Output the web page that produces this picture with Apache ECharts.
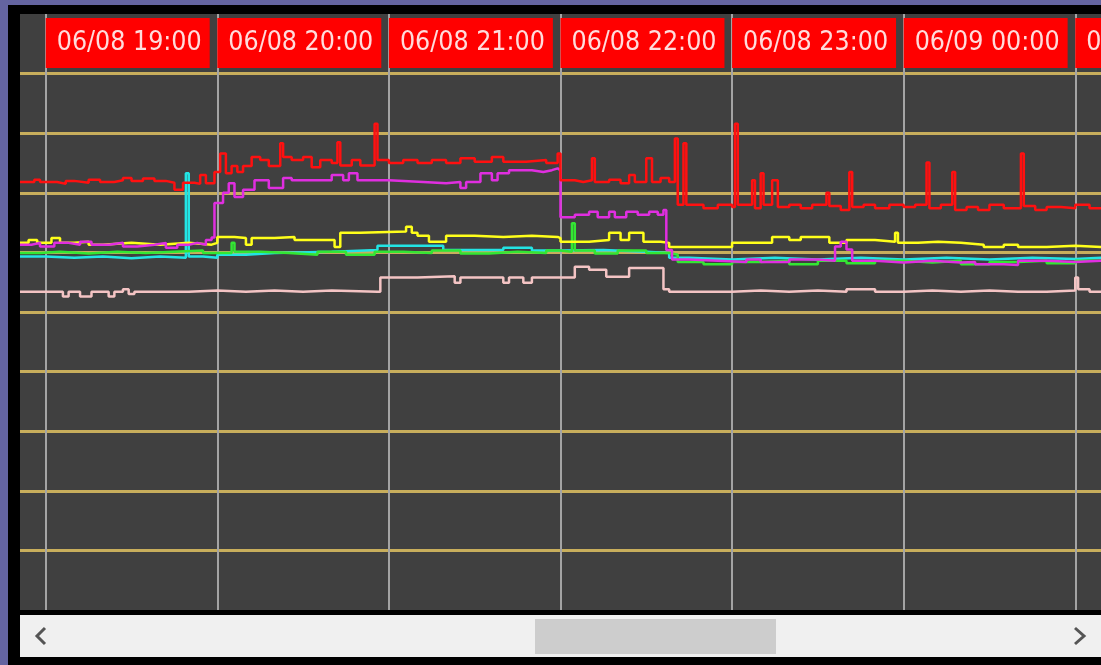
<!DOCTYPE html>
<html>
<head>
<meta charset="utf-8">
<script src="https://cdn.jsdelivr.net/npm/echarts@6/dist/echarts.min.js"></script>
<style>
    html, body { margin: 0; padding: 0; width: 1101px; height: 665px; overflow: hidden; background: #6464a0; }
    #container { position: absolute; left: 8px; top: 5px; width: 1093px; height: 660px; }
</style>
</head>
<body>
<div id="container"></div>
<script>
// visible window of the trend, 06/08 18:51 .. 06/09 01:09
const viewStart = '18:51';
const viewEnd = '01:09';

const redData = [
    ['18:51', 7.18], ['18:56', 7.22], ['18:58', 7.18], ['19:04', 7.15], ['19:07', 7.20], ['19:10', 7.17],
    ['19:15', 7.22], ['19:19', 7.18], ['19:24', 7.21], ['19:27', 7.25], ['19:30', 7.20], ['19:34', 7.24],
    ['19:38', 7.20], ['19:42', 7.17], ['19:45', 7.05], ['19:48', 7.17], ['19:52', 7.15], ['19:54', 7.30],
    ['19:56', 7.16], ['19:59', 7.35], ['20:01', 7.66], ['20:03', 7.33], ['20:05', 7.45], ['20:07', 7.35],
    ['20:09', 7.45], ['20:12', 7.60], ['20:15', 7.55], ['20:18', 7.45], ['20:22', 7.83], ['20:23', 7.60],
    ['20:26', 7.55], ['20:30', 7.60], ['20:33', 7.43], ['20:36', 7.55], ['20:40', 7.50], ['20:42', 7.85],
    ['20:43', 7.46], ['20:47', 7.55], ['20:50', 7.46], ['20:55', 8.16], ['20:56', 7.55], ['21:00', 7.50],
    ['21:05', 7.55], ['21:10', 7.50], ['21:15', 7.55], ['21:20', 7.50], ['21:25', 7.58], ['21:30', 7.52],
    ['21:36', 7.60], ['21:40', 7.52], ['21:48', 7.55], ['21:55', 7.50], ['21:59', 7.66], ['22:00', 7.21],
    ['22:05', 7.18], ['22:08', 7.21], ['22:11', 7.58], ['22:12', 7.18], ['22:17', 7.22], ['22:21', 7.16],
    ['22:24', 7.30], ['22:26', 7.18], ['22:30', 7.58], ['22:32', 7.18], ['22:35', 7.25], ['22:38', 7.18],
    ['22:40', 7.91], ['22:41', 6.80], ['22:43', 7.83], ['22:44', 6.80], ['22:50', 6.74], ['22:55', 6.80],
    ['23:00', 6.76], ['23:01', 8.16], ['23:02', 6.80], ['23:07', 7.21], ['23:08', 6.74], ['23:10', 7.33],
    ['23:11', 6.80], ['23:14', 7.21], ['23:16', 6.76], ['23:20', 6.80], ['23:24', 6.74], ['23:28', 6.80],
    ['23:33', 7.00], ['23:34', 6.78], ['23:38', 6.71], ['23:41', 7.35], ['23:42', 6.76], ['23:46', 6.80],
    ['23:50', 6.74], ['23:55', 6.80], ['00:00', 6.76], ['00:04', 6.80], ['00:08', 7.51], ['00:09', 6.74],
    ['00:13', 6.80], ['00:17', 7.35], ['00:18', 6.71], ['00:22', 6.76], ['00:26', 6.71], ['00:30', 6.80],
    ['00:35', 6.74], ['00:41', 7.66], ['00:42', 6.78], ['00:46', 6.71], ['00:50', 6.76], ['00:55', 6.74],
    ['01:00', 6.80], ['01:05', 6.74], ['01:09', 6.76]
];

const magentaData = [
    ['18:51', 6.13], ['18:55', 6.16], ['18:58', 6.10], ['19:03', 6.16], ['19:08', 6.13], ['19:12', 6.18],
    ['19:16', 6.13], ['19:22', 6.16], ['19:27', 6.10], ['19:32', 6.13], ['19:38', 6.16], ['19:42', 6.08],
    ['19:46', 6.13], ['19:50', 6.16], ['19:53', 6.13], ['19:56', 6.21], ['19:58', 6.25], ['19:59', 6.83],
    ['20:02', 7.00], ['20:04', 7.16], ['20:06', 6.93], ['20:09', 7.05], ['20:13', 7.21], ['20:18', 7.08],
    ['20:23', 7.25], ['20:26', 7.21], ['20:40', 7.30], ['20:44', 7.21], ['20:46', 7.33], ['20:49', 7.21],
    ['21:00', 7.18], ['21:12', 7.16], ['21:20', 7.18], ['21:25', 7.08], ['21:27', 7.18], ['21:32', 7.33],
    ['21:36', 7.21], ['21:38', 7.33], ['21:42', 7.38], ['21:50', 7.35], ['21:54', 7.38], ['21:57', 7.41],
    ['21:59', 7.38], ['22:00', 6.59], ['22:05', 6.63], ['22:10', 6.68], ['22:13', 6.59], ['22:17', 6.68],
    ['22:19', 6.59], ['22:23', 6.68], ['22:27', 6.63], ['22:31', 6.68], ['22:34', 6.63], ['22:36', 6.71],
    ['22:37', 6.04], ['22:39', 5.88], ['22:45', 5.86], ['22:55', 5.84], ['23:05', 5.88], ['23:10', 5.84],
    ['23:20', 5.88], ['23:30', 5.86], ['23:36', 6.10], ['23:38', 6.18], ['23:40', 6.05], ['23:42', 5.86],
    ['23:50', 5.83], ['00:00', 5.86], ['00:10', 5.83], ['00:20', 5.84], ['00:25', 5.80], ['00:35', 5.79],
    ['00:40', 5.86], ['00:50', 5.84], ['01:00', 5.86], ['01:09', 5.84]
];

const yellowData = [
    ['18:51', 6.16], ['18:54', 6.21], ['18:57', 6.16], ['19:02', 6.24], ['19:05', 6.16], ['19:10', 6.18],
    ['19:15', 6.13], ['19:20', 6.16], ['19:30', 6.13], ['19:40', 6.16], ['19:50', 6.13], ['19:58', 6.16],
    ['20:00', 6.26], ['20:06', 6.24], ['20:10', 6.13], ['20:12', 6.24], ['20:20', 6.26], ['20:27', 6.21],
    ['20:35', 6.21], ['20:41', 6.09], ['20:43', 6.33], ['20:50', 6.35], ['21:06', 6.43], ['21:08', 6.33],
    ['21:10', 6.28], ['21:14', 6.18], ['21:20', 6.28], ['21:30', 6.26], ['21:40', 6.28], ['21:50', 6.26],
    ['21:59', 6.24], ['22:00', 6.18], ['22:10', 6.21], ['22:17', 6.33], ['22:21', 6.21], ['22:24', 6.33],
    ['22:29', 6.18], ['22:35', 6.16], ['22:38', 6.09], ['22:50', 6.09], ['23:00', 6.16], ['23:08', 6.16],
    ['23:14', 6.26], ['23:20', 6.21], ['23:24', 6.26], ['23:34', 6.16], ['23:40', 6.21], ['23:50', 6.18],
    ['23:57', 6.33], ['23:58', 6.16], ['00:05', 6.18], ['00:12', 6.16], ['00:20', 6.13], ['00:28', 6.09],
    ['00:35', 6.13], ['00:40', 6.09], ['00:50', 6.11], ['01:00', 6.09], ['01:09', 6.09]
];

const greenData = [
    ['18:51', 5.99], ['18:58', 6.01], ['19:05', 5.98], ['19:15', 6.01], ['19:25', 5.99], ['19:35', 6.01],
    ['19:45', 6.03], ['19:55', 5.99], ['20:05', 6.16], ['20:06', 6.01], ['20:15', 5.99], ['20:25', 5.96],
    ['20:35', 6.01], ['20:45', 5.96], ['20:55', 6.01], ['21:05', 5.99], ['21:15', 6.03], ['21:25', 5.98],
    ['21:35', 6.01], ['21:45', 5.99], ['21:55', 6.03], ['22:00', 6.01], ['22:04', 6.49], ['22:05', 6.03],
    ['22:12', 5.98], ['22:20', 6.03], ['22:30', 5.99], ['22:38', 5.96], ['22:41', 5.84], ['22:50', 5.80],
    ['23:00', 5.84], ['23:10', 5.86], ['23:20', 5.80], ['23:30', 5.86], ['23:40', 5.82], ['23:50', 5.86],
    ['00:00', 5.83], ['00:10', 5.86], ['00:20', 5.80], ['00:30', 5.84], ['00:40', 5.86], ['00:50', 5.82],
    ['01:00', 5.86], ['01:09', 5.84]
];

const cyanData = [
    ['18:51', 5.93], ['19:00', 5.91], ['19:10', 5.93], ['19:20', 5.90], ['19:30', 5.93], ['19:40', 5.91],
    ['19:49', 7.33], ['19:50', 5.93], ['19:55', 5.91], ['20:00', 5.96], ['20:10', 5.99], ['20:20', 6.01],
    ['20:40', 6.04], ['20:56', 6.11], ['21:19', 6.04], ['21:30', 6.04], ['21:40', 6.08], ['21:50', 6.03],
    ['22:00', 6.04], ['22:15', 6.01], ['22:30', 5.99], ['22:38', 5.91], ['22:45', 5.88], ['23:00', 5.91],
    ['23:15', 5.88], ['23:30', 5.91], ['23:45', 5.88], ['00:00', 5.91], ['00:15', 5.88], ['00:30', 5.91],
    ['00:45', 5.89], ['01:00', 5.91], ['01:09', 5.89]
];

const pinkData = [
    ['18:51', 5.34], ['19:06', 5.26], ['19:08', 5.34], ['19:12', 5.26], ['19:16', 5.34], ['19:22', 5.26],
    ['19:24', 5.34], ['19:27', 5.38], ['19:29', 5.30], ['19:31', 5.34], ['19:40', 5.34], ['19:50', 5.36],
    ['20:00', 5.34], ['20:10', 5.36], ['20:20', 5.34], ['20:30', 5.36], ['20:40', 5.34], ['20:56', 5.34],
    ['20:57', 5.58], ['21:10', 5.60], ['21:23', 5.49], ['21:25', 5.58], ['21:40', 5.49], ['21:42', 5.58],
    ['21:47', 5.49], ['21:50', 5.58], ['22:00', 5.58], ['22:05', 5.76], ['22:10', 5.71], ['22:16', 5.59],
    ['22:24', 5.74], ['22:35', 5.74], ['22:36', 5.38], ['22:38', 5.34], ['22:50', 5.34], ['23:00', 5.36],
    ['23:10', 5.34], ['23:20', 5.36], ['23:30', 5.34], ['23:40', 5.38], ['23:50', 5.34], ['00:00', 5.36],
    ['00:10', 5.34], ['00:20', 5.36], ['00:30', 5.34], ['00:40', 5.34], ['00:50', 5.36], ['01:00', 5.58],
    ['01:01', 5.38], ['01:05', 5.34], ['01:09', 5.34]
];

const seriesList = [
    {name: 'pink', color: '#f4c4c4', data: pinkData},
    {name: 'cyan', color: '#22e4e4', data: cyanData},
    {name: 'green', color: '#33e633', data: greenData},
    {name: 'yellow', color: '#ffff1a', data: yellowData},
    {name: 'magenta', color: '#e02ee0', data: magentaData},
    {name: 'red', color: '#ff1010', data: redData}
];

// trend runs over midnight: morning hours belong to 06/09
function toDate(hhmm) {
    let day = parseInt(hhmm.slice(0, 2), 10) < 12 ? '09' : '08';
    return '2023-06-' + day + ' ' + hhmm;
}

function pad(n) {
    return (n < 10 ? '0' : '') + n;
}

function timeLabel(value) {
    let d = new Date(value);
    return pad(d.getMonth() + 1) + '/' + pad(d.getDate()) + ' ' + pad(d.getHours()) + ':' + pad(d.getMinutes());
}

let dom = document.getElementById('container');
let myChart = echarts.init(dom);

let option = {
    backgroundColor: '#000000',
    animation: false,
    grid: {
        left: 12,
        top: 9,
        right: 0,
        bottom: 55,
        outerBoundsMode: 'none',
        containLabel: false,
        show: true,
        backgroundColor: '#404040',
        borderWidth: 0
    },
    xAxis: {
        type: 'time',
        position: 'top',
        min: toDate(viewStart),
        max: toDate(viewEnd),
        splitNumber: 6,
        axisLine: {show: false},
        axisTick: {show: false},
        splitLine: {
            show: true,
            showMinLine: false,
            showMaxLine: false,
            lineStyle: {color: '#a4a4a4', width: 2}
        },
        axisLabel: {
            inside: true,
            margin: 4,
            align: 'left',
            verticalAlign: 'top',
            showMinLabel: false,
            showMaxLabel: false,
            hideOverlap: false,
            formatter: timeLabel,
            color: '#ffdcdc',
            fontFamily: 'DejaVu Sans Condensed, DejaVu Sans',
            fontSize: 26.5,
            lineHeight: 27,
            backgroundColor: '#ff0000',
            padding: [12, 8, 11, 11]
        }
    },
    yAxis: {
        type: 'value',
        min: 0,
        max: 10,
        interval: 1,
        axisLine: {show: false},
        axisTick: {show: false},
        axisLabel: {show: false},
        splitLine: {
            show: true,
            showMinLine: false,
            showMaxLine: false,
            lineStyle: {color: '#c8ae5c', width: 3}
        }
    },
    series: seriesList.map(function (s) {
        return {
            name: s.name,
            type: 'line',
            step: 'end',
            symbol: 'none',
            silent: true,
            lineStyle: {color: s.color, width: 2.5},
            data: s.data.map(function (p) {
                return [toDate(p[0]), p[1]];
            })
        };
    }),
    // the scroll bar under the trend
    graphic: [
        {type: 'rect', left: 12, top: 610, shape: {width: 1081, height: 42}, style: {fill: '#f0f0f0'}},
        {type: 'rect', left: 527, top: 614, shape: {width: 241, height: 35}, style: {fill: '#cdcdcd'}},
        {type: 'polyline', shape: {points: [[37, 623], [29, 631], [37, 639]]}, style: {stroke: '#555555', lineWidth: 3, fill: null}},
        {type: 'polyline', shape: {points: [[1067, 623], [1076, 631], [1067, 639]]}, style: {stroke: '#555555', lineWidth: 3, fill: null}}
    ]
};

if (option && typeof option === 'object') {
    myChart.setOption(option, true);
}
</script>
</body>
</html>
